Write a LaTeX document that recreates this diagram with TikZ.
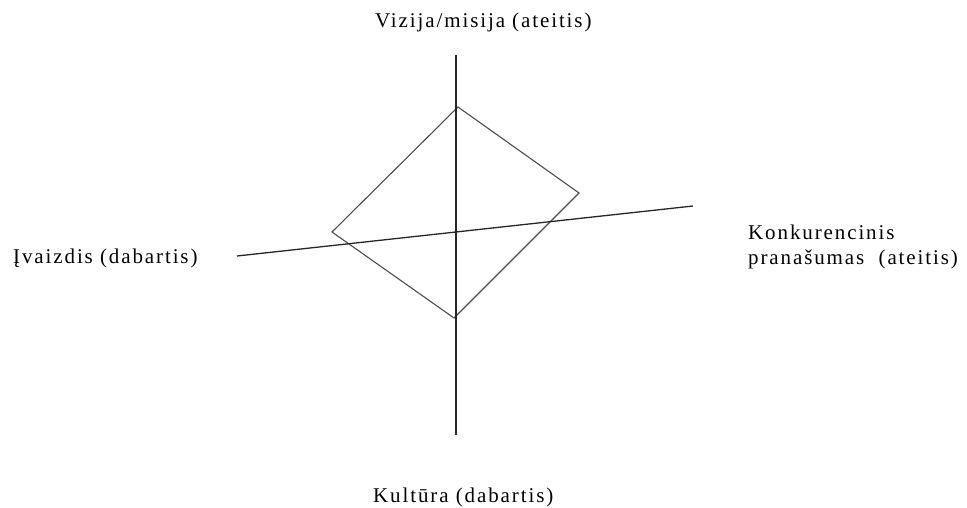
\documentclass[tikz,border=0pt]{standalone}
\usepackage{fontspec}
\setmainfont{Liberation Serif}[LetterSpace=9]
\usetikzlibrary{positioning}

\begin{document}
\begin{tikzpicture}[
x=1pt, y=-1pt,
axis/.style={line width=1.3pt, black!85},
edge/.style={line width=1.1pt, black!70},
lbl/.style={font=\fontsize{21}{25}\selectfont, inner sep=0pt, anchor=base west}
]
\useasboundingbox (0,0) rectangle (967,508);
% axes
\coordinate (top) at (456,55);
\coordinate (bot) at (456,435);
\coordinate (lft) at (237,256);
\coordinate (rgt) at (693,206);
% diamond corners
\coordinate (n) at (458,107);
\coordinate (e) at (579,193);
\coordinate (s) at (454,318);
\coordinate (w) at (332,232);
\draw[edge] (n) -- (e) -- (s) -- (w) -- cycle;
\draw[axis] (top) -- (bot);
\draw[axis] (lft) -- (rgt);
% labels
\node[lbl] (vizija) at (375,28) {Vizija/misija (ateitis)};
\node[lbl] (ivaizdis) at (13,263) {Įvaizdis (dabartis)};
\node[lbl] (konk) at (748,239) {Konkurencinis};
\node[lbl] (pran) at (748,264) {pranašumas\ \ (ateitis)};
\node[lbl] (kultura) at (373,502) {Kultūra (dabartis)};
\end{tikzpicture}
\end{document}
